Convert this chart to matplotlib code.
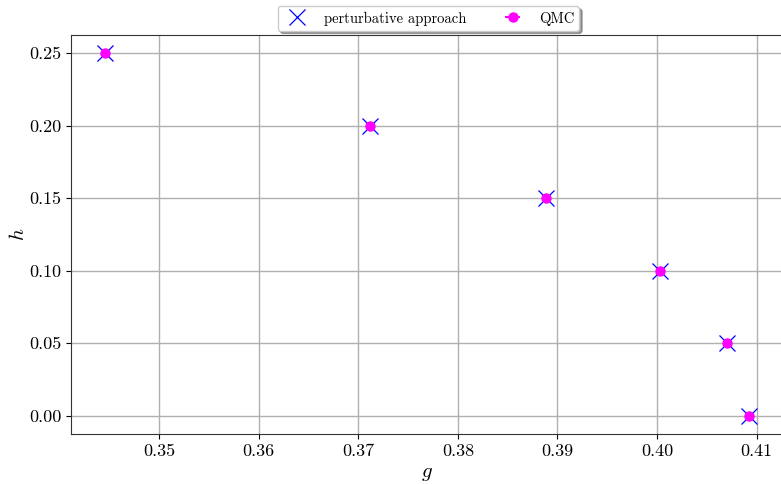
import matplotlib
matplotlib.use("Agg")
import matplotlib.pyplot as plt
import numpy as np

plt.rcParams['font.family'] = 'serif'
plt.rcParams['font.serif'] = ['cmr10', 'DejaVu Serif']
plt.rcParams['mathtext.fontset'] = 'cm'
plt.rcParams['axes.formatter.use_mathtext'] = True
plt.rcParams['axes.unicode_minus'] = False

# values
h_vals = [0.25, 0.20, 0.15, 0.10, 0.05, 0.00]
g_pert = [0.3446, 0.3712, 0.3889, 0.4003, 0.4070, 0.4092]
g_qmc = [0.3446, 0.3712, 0.3889, 0.4003, 0.4070, 0.4092]
g_qmc_err = [0.0002, 0.0002, 0.0002, 0.0002, 0.0002, 0.0002]

fig = plt.figure(figsize=(7.81, 4.84), dpi=100)
ax = fig.add_axes([71/781, 50/484, 712/781, 399/484])

ax.plot(g_pert, h_vals, 'x', color='blue', markersize=12, markeredgewidth=0.9,
        label='perturbative approach', zorder=3)
ax.errorbar(g_qmc, h_vals, xerr=g_qmc_err, fmt='o', color='magenta',
            markersize=6.5, label='QMC', zorder=4)

ax.set_xlabel('$g$', fontsize=15)
ax.set_ylabel('$h$', fontsize=15, labelpad=1)
ax.set_xticks([0.35, 0.36, 0.37, 0.38, 0.39, 0.40, 0.41])
ax.set_yticks([0.00, 0.05, 0.10, 0.15, 0.20, 0.25])
ax.xaxis.set_major_formatter(matplotlib.ticker.FormatStrFormatter('%.2f'))
ax.yaxis.set_major_formatter(matplotlib.ticker.FormatStrFormatter('%.2f'))
ax.tick_params(labelsize=13)
ax.grid(True, color='#b0b0b0', linewidth=1.0)
ax.set_axisbelow(True)
for s in ax.spines.values():
    s.set_color('#333333')

ax.legend(loc='lower center', bbox_to_anchor=(0.502, 1.0), ncol=2, shadow=True,
          fontsize=10.5, handlelength=2.0, columnspacing=2.2, borderpad=0.35,
          borderaxespad=0.3)

fig.savefig('out.png', dpi=100)
